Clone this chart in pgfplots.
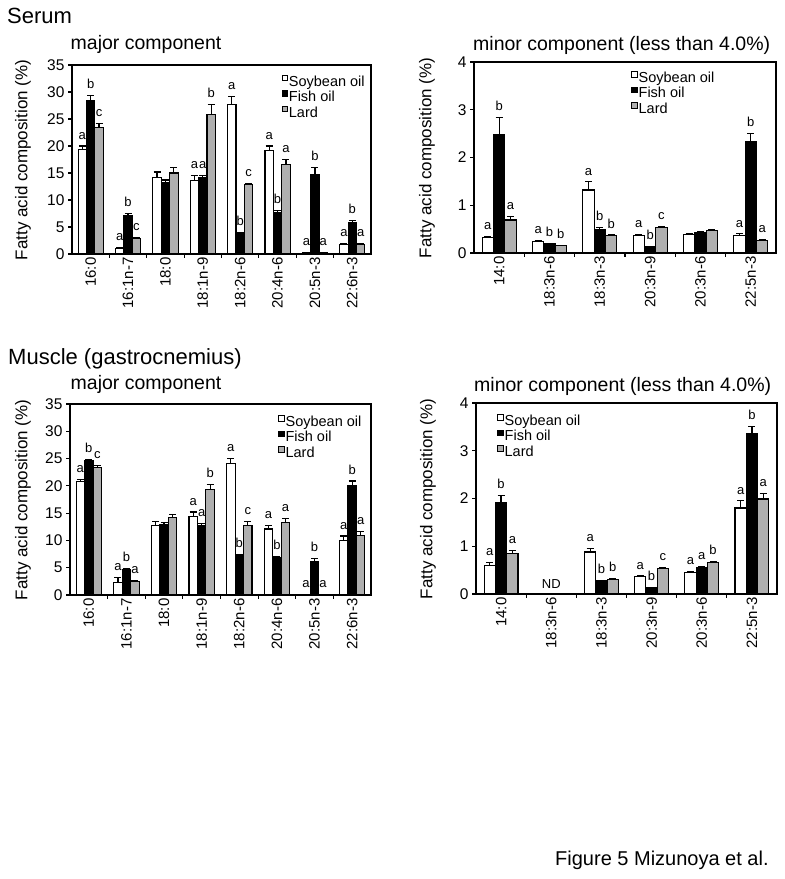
\documentclass[border=0pt]{standalone}
\usepackage{fontspec}
\setmainfont{Liberation Sans}
\usepackage{pgfplots}
\pgfplotsset{compat=1.18}
\usepackage{pgfplotstable}
\definecolor{lardgray}{RGB}{175,175,175}
\newcommand{\fs}[1]{\fontsize{#1}{#1}\selectfont}

% Serum, major component
\pgfplotstableread{
x s se f fe l le
0 19.3 0.7 28.5 0.9 23.4 0.8
1 1.1 0.15 7.1 0.35 2.8 0.2
2 14.2 1.0 13.3 0.4 15.0 1.0
3 13.6 1.0 14.2 0.4 25.9 1.8
4 27.7 1.5 3.9 0.15 12.8 0.2
5 19.2 0.8 7.7 0.3 16.5 1.0
6 0.3 0.05 14.8 1.2 0.2 0.05
7 1.8 0.15 5.9 0.25 1.8 0.2
}\SMaj
\pgfplotstableread{
x y lab
-0.225 20.0 a
0 29.4 b
0.225 24.2 c
0.775 1.25 a
1 7.45 b
1.225 3.0 c
2.775 14.6 a
3 14.6 a
3.225 27.7 b
3.775 29.2 a
4 4.05 b
4.225 13.0 c
4.775 20.0 a
5 8.0 b
5.225 17.5 a
5.775 0.35 a
6 16.0 b
6.225 0.25 a
6.775 1.95 a
7 6.15 b
7.225 2.0 a
}\SMajL

% Serum, minor component
\pgfplotstableread{
x s se f fe l le
0 0.33 0.02 2.48 0.36 0.69 0.08
1 0.25 0.02 0.19 0.01 0.15 0.01
2 1.32 0.17 0.50 0.03 0.36 0.02
3 0.37 0.02 0.13 0.01 0.54 0.02
4 0.38 0.02 0.42 0.02 0.47 0.03
5 0.37 0.03 2.34 0.16 0.26 0.02
}\SMin
\pgfplotstableread{
x y lab
-0.225 0.35 a
0 2.84 b
0.225 0.77 a
0.775 0.27 a
1 0.20 b
1.225 0.16 b
1.775 1.49 a
2 0.53 b
2.225 0.38 b
2.775 0.39 a
3 0.14 b
3.225 0.56 c
4.775 0.40 a
5 2.50 b
5.225 0.28 a
}\SMinL

% Muscle, major component
\pgfplotstableread{
x s se f fe l le
0 20.8 0.4 24.6 0.3 23.3 0.4
1 2.3 0.9 4.6 0.3 2.4 0.2
2 12.7 0.8 13.0 0.3 14.2 0.5
3 14.4 0.8 12.7 0.4 19.4 0.8
4 24.1 0.9 7.2 0.2 12.8 0.7
5 12.1 0.7 6.9 0.2 13.3 0.7
6 0.1 0.02 6.2 0.5 0.1 0.02
7 10.0 0.8 20.0 0.9 10.9 0.7
}\MMaj
\pgfplotstableread{
x y lab
-0.225 21.2 a
0 24.9 b
0.225 23.7 c
0.775 3.2 a
1 4.9 b
1.225 2.6 a
2.775 15.2 a
3 13.1 a
3.225 20.2 b
3.775 25.0 a
4 7.4 b
4.225 13.5 c
4.775 12.8 a
5 7.1 b
5.225 14.0 a
5.775 0.12 a
6 6.7 b
6.225 0.12 a
6.775 10.8 a
7 20.9 b
7.225 11.6 a
}\MMajL

% Muscle, minor component (18:3n-6 not detected)
\pgfplotstableread{
x s se f fe l le
0 0.59 0.07 1.91 0.16 0.84 0.07
2 0.88 0.07 0.28 0.01 0.31 0.01
3 0.36 0.02 0.13 0.01 0.53 0.02
4 0.45 0.02 0.55 0.02 0.66 0.02
5 1.80 0.15 3.36 0.15 1.99 0.11
}\MMin
\pgfplotstableread{
x y lab
-0.225 0.66 a
0 2.07 b
0.225 0.91 a
1.775 0.95 a
2 0.29 b
2.225 0.32 b
2.775 0.38 a
3 0.14 b
3.225 0.55 c
3.775 0.47 a
4 0.57 a
4.225 0.68 b
4.775 1.95 a
5 3.51 b
5.225 2.10 a
}\MMinL

\pgfplotsset{
  panel/.style={
    scale only axis, anchor=south west,
    ymin=0, xmin=-0.5,
    axis line style={line width=1.2pt},
    tick align=outside, tick pos=left,
    major tick length=4pt,
    every tick/.style={black, line width=1.1pt},
    yticklabel style={font=\fs{15.5}},
    xticklabel style={font=\fs{15}, rotate=90, anchor=east},
    xticklabels={},
    extra x tick style={major tick length=0pt},
    /pgf/number format/assume math mode=true,
    legend cell align=left,
    legend style={draw=none, fill=none, inner sep=0pt, font=\fs{14.5}, row sep=0pt,
      nodes={inner sep=1pt, text height=10.5pt, text depth=3pt}, anchor=north west},
  },
  sbar/.style={ybar, bar width=0.225, bar shift=0pt, draw=black, line width=1.1pt,
    legend image code/.code={\draw[##1, line width=0.9pt] (0pt,1.5pt) rectangle (5.5pt,7pt);},
    error bars/y dir=plus, error bars/y explicit,
    error bars/error bar style={line width=1.2pt, black},
    error bars/error mark options={rotate=90, mark size=3.5pt, line width=1.2pt, black}},
  letters/.style={draw=none, forget plot, nodes near coords, point meta=explicit symbolic,
    nodes near coords style={anchor=south, inner sep=0pt, yshift=6.5pt, font=\fs{13}}},
}

\begin{document}
\begin{tikzpicture}
\path[use as bounding box] (0pt,0pt) rectangle (785pt,879pt);

% ---- Serum major
\begin{axis}[panel, at={(72pt,625pt)}, width=299pt, height=189pt,
  xmax=7.5, ymax=35, ytick={0,5,...,35},
  xtick={0.5,1.5,...,6.5},
  extra x ticks={0,1,2,3,4,5,6,7},
  extra x tick labels={16:0,16:1n-7,18:0,18:1n-9,18:2n-6,20:4n-6,20:5n-3,22:6n-3},
  legend style={at={(rel axis cs:0.70,0.95)}}]
\addplot[sbar, fill=white] table[x expr=\thisrow{x}-0.225, y=s, y error=se] {\SMaj};
\addlegendentry{Soybean oil}
\addplot[sbar, fill=black] table[x=x, y=f, y error=fe] {\SMaj};
\addlegendentry{Fish oil}
\addplot[sbar, fill=lardgray] table[x expr=\thisrow{x}+0.225, y=l, y error=le] {\SMaj};
\addlegendentry{Lard}
\addplot[letters] table[x=x, y=y, meta=lab] {\SMajL};
\end{axis}

% ---- Serum minor
\begin{axis}[panel, at={(474pt,626pt)}, width=302pt, height=191pt,
  xmax=5.5, ymax=4, ytick={0,1,2,3,4},
  xtick={0.5,1.5,...,4.5},
  extra x ticks={0,1,2,3,4,5},
  extra x tick labels={14:0,18:3n-6,18:3n-3,20:3n-9,20:3n-6,22:5n-3},
  legend style={at={(rel axis cs:0.52,0.955)}}]
\addplot[sbar, fill=white] table[x expr=\thisrow{x}-0.225, y=s, y error=se] {\SMin};
\addlegendentry{Soybean oil}
\addplot[sbar, fill=black] table[x=x, y=f, y error=fe] {\SMin};
\addlegendentry{Fish oil}
\addplot[sbar, fill=lardgray] table[x expr=\thisrow{x}+0.225, y=l, y error=le] {\SMin};
\addlegendentry{Lard}
\addplot[letters] table[x=x, y=y, meta=lab] {\SMinL};
\end{axis}

% ---- Muscle major
\begin{axis}[panel, at={(70pt,284pt)}, width=301pt, height=191pt,
  xmax=7.5, ymax=35, ytick={0,5,...,35},
  xtick={0.5,1.5,...,6.5},
  extra x ticks={0,1,2,3,4,5,6,7},
  extra x tick labels={16:0,16:1n-7,18:0,18:1n-9,18:2n-6,20:4n-6,20:5n-3,22:6n-3},
  legend style={at={(rel axis cs:0.691,0.945)}}]
\addplot[sbar, fill=white] table[x expr=\thisrow{x}-0.225, y=s, y error=se] {\MMaj};
\addlegendentry{Soybean oil}
\addplot[sbar, fill=black] table[x=x, y=f, y error=fe] {\MMaj};
\addlegendentry{Fish oil}
\addplot[sbar, fill=lardgray] table[x expr=\thisrow{x}+0.225, y=l, y error=le] {\MMaj};
\addlegendentry{Lard}
\addplot[letters] table[x=x, y=y, meta=lab] {\MMajL};
\end{axis}

% ---- Muscle minor
\begin{axis}[panel, at={(476pt,285pt)}, width=301pt, height=191pt,
  xmax=5.5, ymax=4, ytick={0,1,2,3,4},
  xtick={0.5,1.5,...,4.5},
  extra x ticks={0,1,2,3,4,5},
  extra x tick labels={14:0,18:3n-6,18:3n-3,20:3n-9,20:3n-6,22:5n-3},
  legend style={at={(rel axis cs:0.07,0.945)}}]
\addplot[sbar, fill=white] table[x expr=\thisrow{x}-0.225, y=s, y error=se] {\MMin};
\addlegendentry{Soybean oil}
\addplot[sbar, fill=black] table[x=x, y=f, y error=fe] {\MMin};
\addlegendentry{Fish oil}
\addplot[sbar, fill=lardgray] table[x expr=\thisrow{x}+0.225, y=l, y error=le] {\MMin};
\addlegendentry{Lard}
\addplot[letters] table[x=x, y=y, meta=lab] {\MMinL};
\node[font=\fs{13}, anchor=south] at (axis cs:1,0.04) {ND};
\end{axis}

% ---- titles and labels
\node[anchor=base west, font=\fs{22}, inner sep=0pt] at (7pt,855pt) {Serum};
\node[anchor=base west, font=\fs{19.5}, inner sep=0pt] at (70.5pt,829pt) {major component};
\node[anchor=base west, font=\fs{19.5}, inner sep=0pt] at (473pt,828pt) {minor component (less than 4.0\%)};
\node[anchor=base west, font=\fs{22}, inner sep=0pt] at (8pt,514pt) {Muscle (gastrocnemius)};
\node[anchor=base west, font=\fs{19.5}, inner sep=0pt] at (70.5pt,489pt) {major component};
\node[anchor=base west, font=\fs{19.5}, inner sep=0pt] at (474pt,487pt) {minor component (less than 4.0\%)};
\node[rotate=90, font=\fs{17}] at (23pt,719pt) {Fatty acid composition (\%)};
\node[rotate=90, font=\fs{17}] at (427pt,721pt) {Fatty acid composition (\%)};
\node[rotate=90, font=\fs{17}] at (23pt,379pt) {Fatty acid composition (\%)};
\node[rotate=90, font=\fs{17}] at (428pt,380pt) {Fatty acid composition (\%)};
\node[anchor=base west, font=\fs{20}, inner sep=0pt] at (555pt,13pt) {Figure 5 Mizunoya et al.};
\end{tikzpicture}
\end{document}
